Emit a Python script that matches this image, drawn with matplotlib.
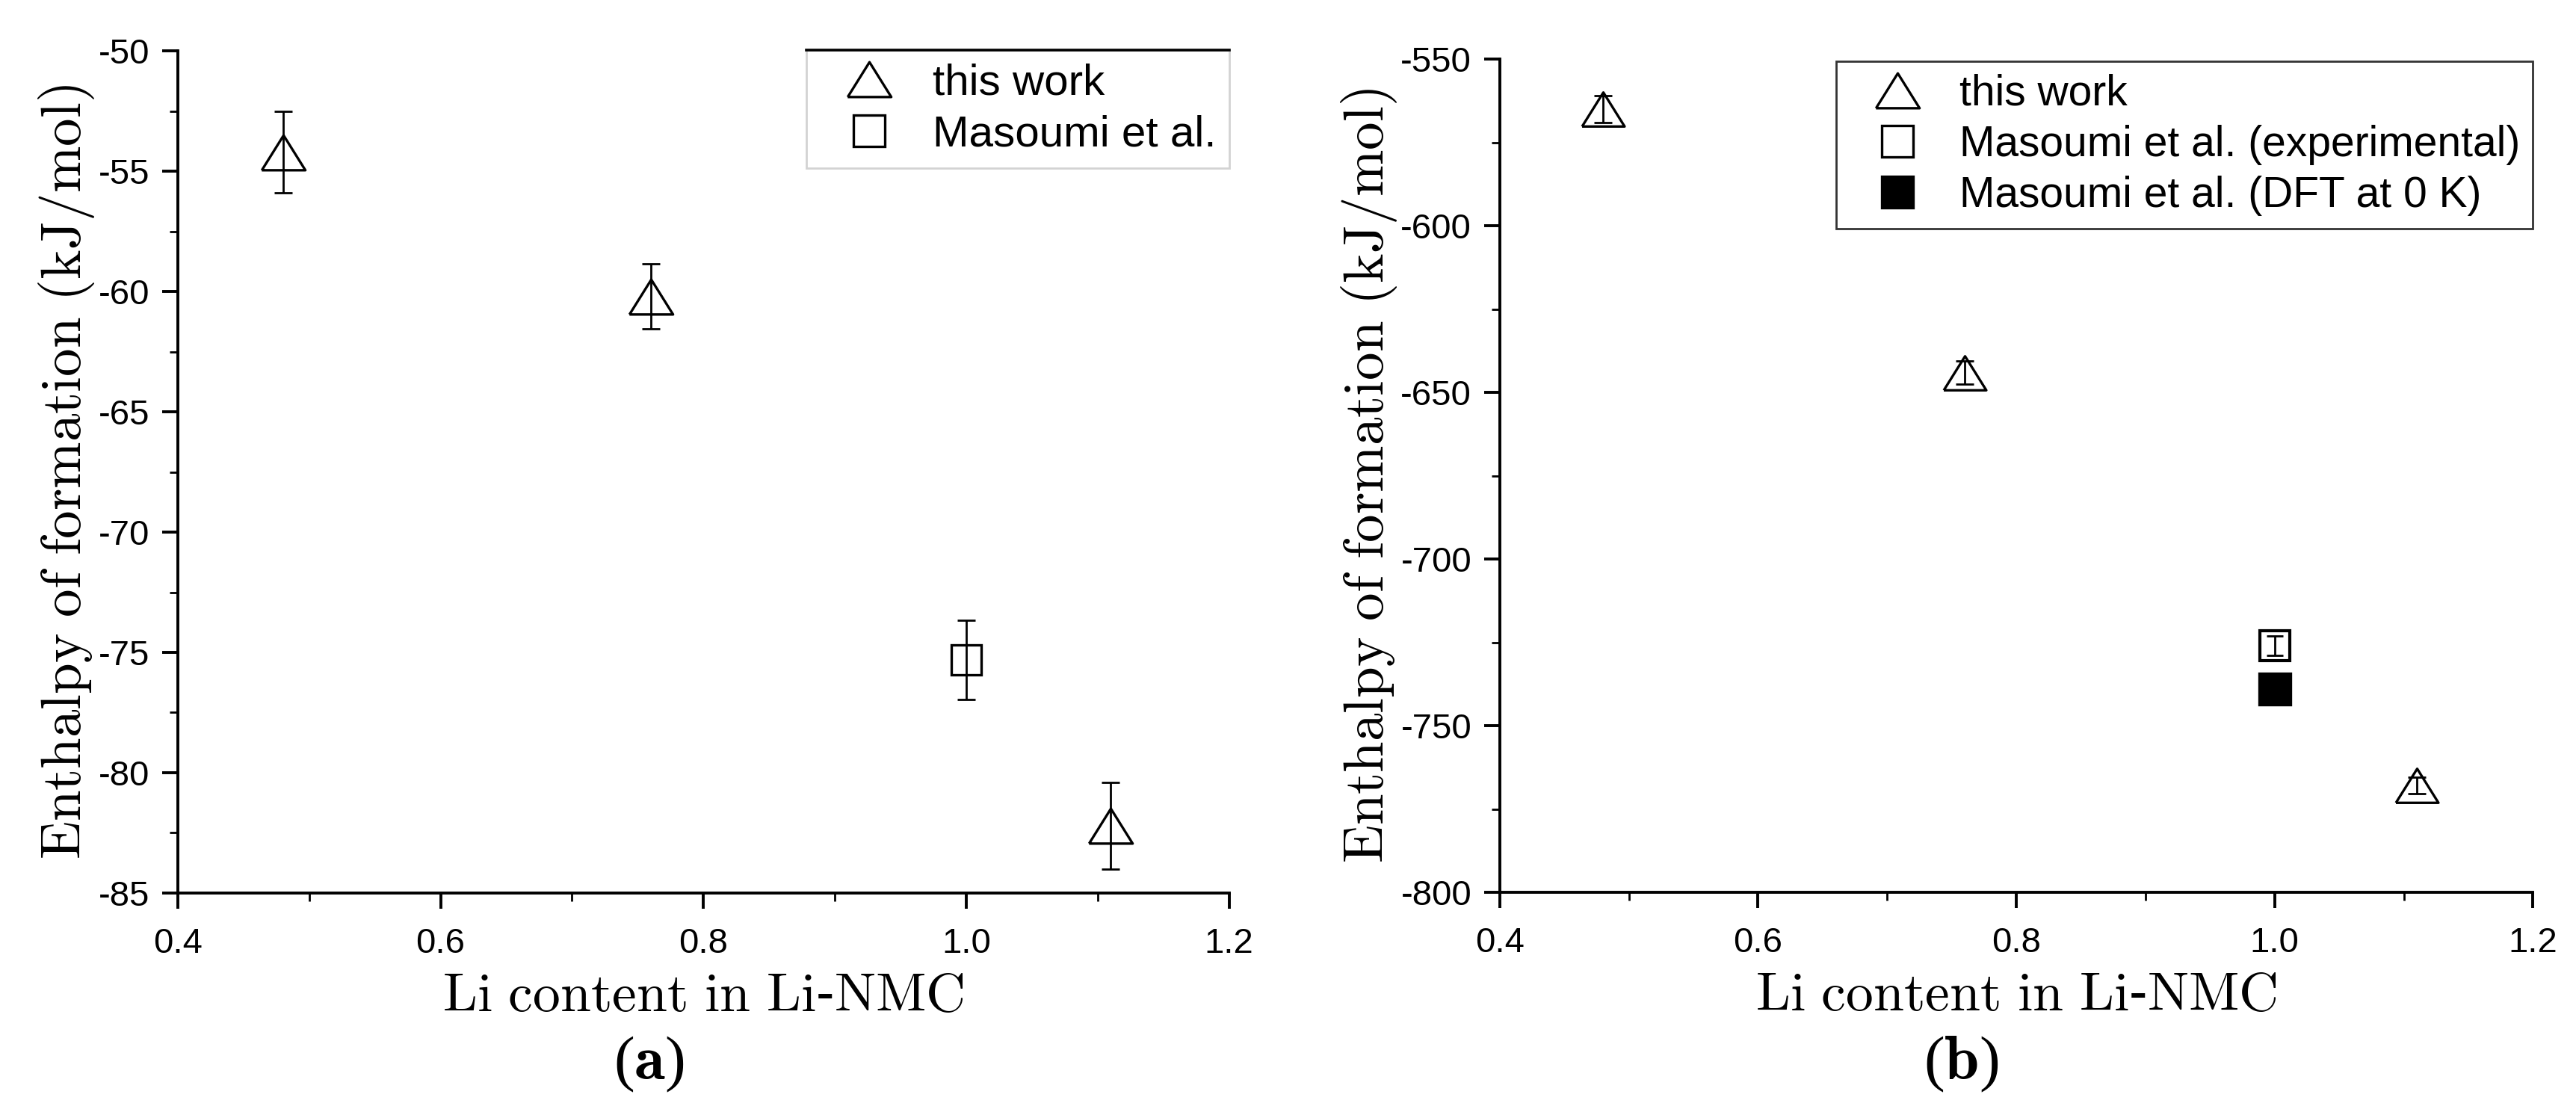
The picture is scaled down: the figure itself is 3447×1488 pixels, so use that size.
import matplotlib
matplotlib.use("Agg")
import matplotlib.pyplot as plt
from matplotlib.lines import Line2D
from matplotlib.ticker import MultipleLocator, FuncFormatter

plt.rcParams["font.family"] = ["Liberation Sans", "DejaVu Sans"]
plt.rcParams["mathtext.fontset"] = "cm"

# panel (a)
li_a = [0.48, 0.76, 1.11]
dh_a = [-54.2, -60.2, -82.2]
err_a = [1.7, 1.35, 1.8]
li_mas_a = [1.0]
dh_mas_a = [-75.3]
err_mas_a = [1.65]

# panel (b)
li_b = [0.48, 0.76, 1.11]
dh_b = [-565, -644, -768]
err_b = [4.0, 3.5, 2.5]
li_mas_exp = [1.0]
dh_mas_exp = [-726]
err_mas_exp = [3.0]
li_mas_dft = [1.0]
dh_mas_dft = [-739]

labels_a = ["this work", "Masoumi et al."]
labels_b = ["this work", "Masoumi et al. (experimental)", "Masoumi et al. (DFT at 0 K)"]

xlabel = r"$\mathrm{Li\ content\ in\ Li}$-$\mathrm{NMC}$"
ylabel = r"$\mathrm{Enthalpy\ of\ formation\ (kJ/mol)}$"

# flatter open triangle like the original
tri = [(-1, -0.8), (1, -0.8), (0, 0.8), (-1, -0.8)]

fig = plt.figure(figsize=(34.48, 14.88), dpi=100)
ax1 = fig.add_axes([0.069, 0.197, 0.408, 0.757])
ax2 = fig.add_axes([0.582, 0.1976, 0.401, 0.749])


def style_axis(ax, ylim, ymaj, ymin):
    ax.set_xlim(0.4, 1.2)
    ax.set_ylim(*ylim)
    ax.xaxis.set_major_locator(MultipleLocator(0.2))
    ax.xaxis.set_minor_locator(MultipleLocator(0.1))
    ax.yaxis.set_major_locator(MultipleLocator(ymaj))
    ax.yaxis.set_minor_locator(MultipleLocator(ymin))
    ax.xaxis.set_major_formatter(FuncFormatter(lambda v, p: f"{v:.1f}"))
    ax.yaxis.set_major_formatter(FuncFormatter(lambda v, p: f"{v:.0f}"))
    for s in ["top", "right"]:
        ax.spines[s].set_visible(False)
    for s in ["left", "bottom"]:
        ax.spines[s].set_linewidth(2.8)
    ax.tick_params(which="major", direction="out", length=15, width=2.8, labelsize=34)
    ax.tick_params(which="minor", direction="out", length=8, width=2.0)
    ax.tick_params(axis="x", which="major", pad=18)
    ax.tick_params(axis="y", which="major", pad=12)
    ax.set_xlabel(xlabel, fontsize=53, labelpad=10)
    ax.set_ylabel(ylabel, fontsize=54, labelpad=2)


def add_legend(ax, handles, labels, fsize, top):
    leg = ax.legend(handles, labels, loc="upper right", bbox_to_anchor=(1.0, top),
                    borderaxespad=0, fontsize=fsize, frameon=True, fancybox=False,
                    edgecolor="black", handlelength=2.3, handletextpad=0.3,
                    labelspacing=0.25, borderpad=0.3)
    leg.get_frame().set_linewidth(2.0)
    return leg


# (a)
ax1.errorbar(li_a, dh_a, yerr=err_a, fmt="none", ecolor="black", elinewidth=2, capsize=8.5, capthick=2)
ax1.errorbar(li_mas_a, dh_mas_a, yerr=err_mas_a, fmt="none", ecolor="black", elinewidth=2, capsize=8.5, capthick=2)
ax1.plot(li_a, dh_a, ls="none", marker=tri, ms=42, mfc="none", mec="black", mew=2.4)
ax1.plot(li_mas_a, dh_mas_a, ls="none", marker="s", ms=29, mfc="none", mec="black", mew=2.4)
style_axis(ax1, (-85, -50), 5, 2.5)

handles_a = [
    Line2D([], [], ls="none", marker=tri, ms=42, mfc="none", mec="black", mew=2.4),
    Line2D([], [], ls="none", marker="s", ms=30, mfc="none", mec="black", mew=2.4),
]
leg_a = add_legend(ax1, handles_a, labels_a, 42, 1.001)
leg_a.get_frame().set_edgecolor("#c8c8c8")

# (b)
ax2.errorbar(li_b, dh_b, yerr=err_b, fmt="none", ecolor="black", elinewidth=2, capsize=8.5, capthick=2)
ax2.errorbar(li_mas_exp, dh_mas_exp, yerr=err_mas_exp, fmt="none", ecolor="black", elinewidth=2, capsize=8, capthick=2)
ax2.plot(li_b, dh_b, ls="none", marker=tri, ms=41, mfc="none", mec="black", mew=2.4)
ax2.plot(li_mas_exp, dh_mas_exp, ls="none", marker="s", ms=29, mfc="none", mec="black", mew=3.0)
ax2.plot(li_mas_dft, dh_mas_dft, ls="none", marker="s", ms=30, mfc="black", mec="black", mew=2.4)
style_axis(ax2, (-800, -550), 50, 25)

handles_b = [
    Line2D([], [], ls="none", marker=tri, ms=42, mfc="none", mec="black", mew=2.4),
    Line2D([], [], ls="none", marker="s", ms=30, mfc="none", mec="black", mew=2.4),
    Line2D([], [], ls="none", marker="s", ms=30, mfc="black", mec="black", mew=2.4),
]
add_legend(ax2, handles_b, labels_b, 41, 0.998)

# dark top edge on legend (a), as in the original
fig.canvas.draw()
bb = leg_a.get_window_extent().transformed(fig.transFigure.inverted())
fig.add_artist(Line2D([bb.x0, bb.x1], [bb.y1, bb.y1], transform=fig.transFigure, color="black", lw=2.6))

fig.text(0.2517, 0.043, r"($\mathbf{a}$)", fontsize=60, ha="center", va="center", family="Liberation Serif")
fig.text(0.761, 0.043, r"($\mathbf{b}$)", fontsize=60, ha="center", va="center", family="Liberation Serif")

fig.savefig("out.png", dpi=100)
